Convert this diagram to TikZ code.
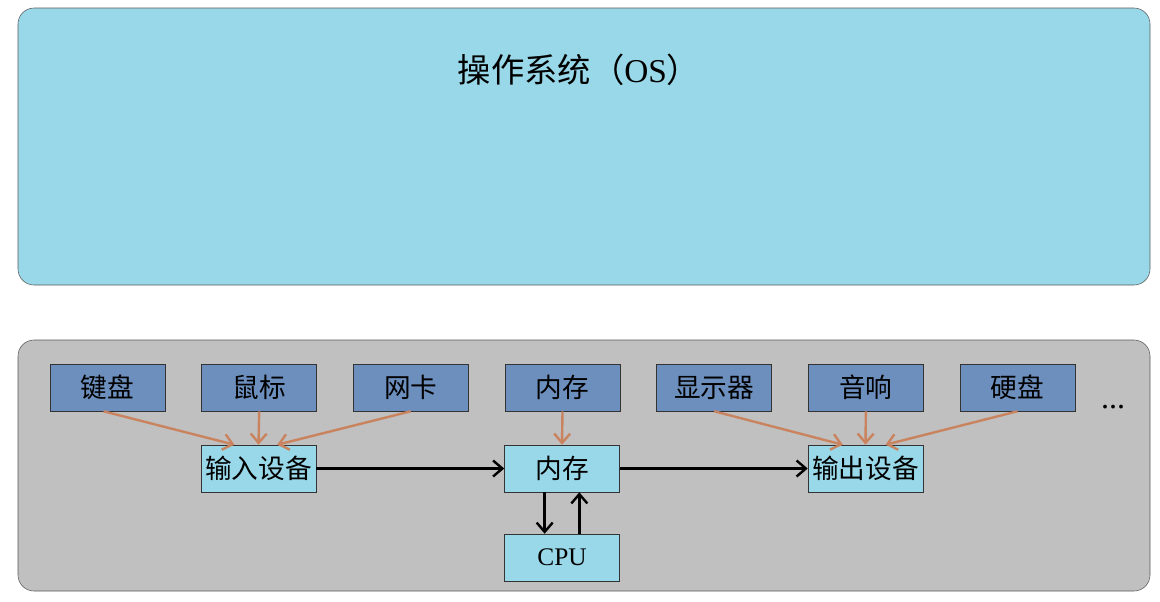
\documentclass[tikz,border=0pt]{standalone}
\usepackage{fontspec}
\setmainfont{Liberation Serif}
\newfontfamily\cjk{Noto Sans CJK SC}
\usetikzlibrary{arrows.meta}

\definecolor{osblue}{HTML}{99D8E9}
\definecolor{devblue}{HTML}{6C8FBE}
\definecolor{hwgray}{HTML}{C0C0C0}
\definecolor{feed}{HTML}{C9845F}

\tikzset{
  dev/.style={draw=black!80, fill=devblue, minimum width=86.25pt, minimum height=35.25pt,
    inner sep=0pt, font=\cjk\fontsize{20}{22}\selectfont},
  unit/.style={dev, fill=osblue},
  feedarrow/.style={draw=feed, line width=1.8pt, -{Straight Barb[length=7pt,width=12pt]}},
  dataarrow/.style={draw=black, line width=1.8pt, -{Straight Barb[length=7pt,width=12pt]}}
}

\begin{document}
\begin{tikzpicture}[x=.75pt, y=-.75pt]
    \useasboundingbox (0,0) rectangle (1160,601);

    % operating system layer
    \draw[draw=black!65, fill=osblue, rounded corners=12pt] (18,8) rectangle (1150,285);
    \node[font=\fontsize{25}{28}\selectfont] (os) at (579,70) {{\cjk 操作系统（}OS{\cjk ）}};

    % hardware layer
    \draw[draw=black!65, fill=hwgray, rounded corners=12pt] (18,340) rectangle (1150,591);

    \foreach \name/\label [count=\i from 0] in {kb/键盘, mouse/鼠标, nic/网卡, ram/内存,
        disp/显示器, spk/音响, hdd/硬盘}
    \node[dev] (\name) at (107.5+151.67*\i, 387.5) {\label};
    \node[font=\fontsize{24}{26}\selectfont] (more) at (1113,407) {...};

    \node[unit] (in)  at (258.5,468.5) {输入设备};
    \node[unit] (mem) at (562,468.5) {内存};
    \node[unit] (out) at (865.5,468.5) {输出设备};
    \node[unit, font=\fontsize{19}{21}\selectfont] (cpu) at (562,557.5) {CPU};

    % devices into the units
    \draw[feedarrow] ([xshift=-3pt]kb.south) -- ([xshift=-18pt]in.north);
    \draw[feedarrow] (mouse.south) -- (in.north);
    \draw[feedarrow] (nic.south) -- ([xshift=14pt]in.north);
    \draw[feedarrow] (ram.south) -- (mem.north);
    \draw[feedarrow] (disp.south) -- ([xshift=-17pt]out.north);
    \draw[feedarrow] (spk.south) -- (out.north);
    \draw[feedarrow] (hdd.south) -- ([xshift=15pt]out.north);

    % data flow
    \draw[dataarrow] (in.east) -- (mem.west);
    \draw[dataarrow] (mem.east) -- (out.west);
    \draw[dataarrow] ([xshift=-13pt]mem.south) -- ([xshift=-13pt]cpu.north);
    \draw[dataarrow] ([xshift=13pt]cpu.north) -- ([xshift=13pt]mem.south);

  \end{tikzpicture}
\end{document}
